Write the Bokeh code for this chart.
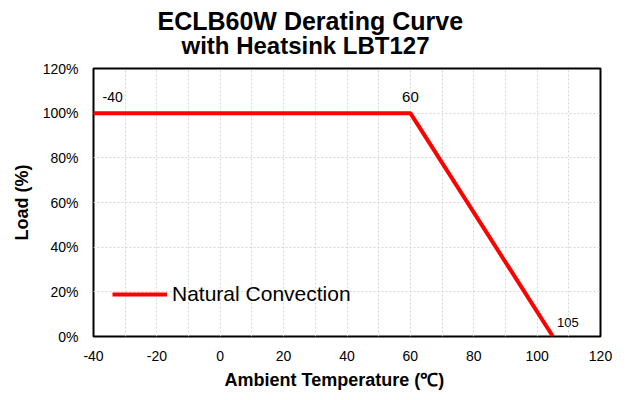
from bokeh.plotting import figure
from bokeh.models import (FixedTicker, PrintfTickFormatter, Label, Legend, LegendItem, Range1d, Title)
from bokeh.embed import file_html
from bokeh.resources import INLINE

# data
temps = [-40, 60, 105]
loads = [100, 100, 0]
point_labels = ["-40", "60", "105"]
x_ticks = [-40, -20, 0, 20, 40, 60, 80, 100, 120]
x_grid = list(range(-40, 121, 10))
y_ticks = [0, 20, 40, 60, 80, 100, 120]
series_name = "Natural Convection"
title_lines = ["ECLB60W  Derating Curve", "with Heatsink  LBT127"]
x_title = "Ambient Temperature (℃)"
y_title = "Load (%)"

W, H = 618, 394
FL, FR, FT, FB = 93, 600, 68, 336   # frame edges on the canvas
FONT = "Liberation Sans"

p = figure(width=W, height=H, output_backend="svg", toolbar_location=None,
           x_range=Range1d(-40, 120), y_range=Range1d(0, 120),
           min_border_left=FL, min_border_right=W - FR,
           min_border_top=FT, min_border_bottom=H - FB)
p.background_fill_color = "white"
p.border_fill_color = "white"
p.outline_line_color = "black"
p.outline_line_width = 2

# title: two centred lines, drawn as left-aligned titles with offsets
# (titles added later sit closer to the plot)
p.title.text = title_lines[0]
p.title.align = "left"
p.title.offset = 64
p.title.standoff = -28
p.title.text_line_height = 1.0
p.title.text_font = FONT
p.title.text_font_size = "25px"
p.title.text_font_style = "bold"
p.title.text_color = "black"
p.add_layout(Title(text=title_lines[1], align="left", offset=88, standoff=19,
                   text_line_height=1.0,
                   text_font=FONT, text_font_size="24px", text_font_style="bold",
                   text_color="black"), "above")

for ax in (p.xaxis[0], p.yaxis[0]):
    ax.axis_line_color = None
    ax.major_tick_line_color = None
    ax.minor_tick_line_color = None
    ax.major_label_text_font = FONT
    ax.major_label_text_font_size = "14px"
    ax.major_label_text_color = "black"

p.xaxis.ticker = FixedTicker(ticks=x_ticks)
p.xaxis.major_label_overrides = {t: str(t) for t in x_ticks}
p.yaxis.ticker = FixedTicker(ticks=y_ticks)
p.yaxis.formatter = PrintfTickFormatter(format="%d%%")
p.xaxis.major_label_standoff = 8
p.yaxis.major_label_standoff = 9

p.yaxis.axis_label = y_title
p.yaxis.axis_label_text_font = FONT
p.yaxis.axis_label_text_font_size = "18px"
p.yaxis.axis_label_text_font_style = "bold"
p.yaxis.axis_label_text_color = "black"
p.yaxis.axis_label_standoff = 8

p.add_layout(Title(text=x_title, align="left", offset=131, standoff=8,
                   text_font=FONT, text_font_size="18px", text_font_style="bold",
                   text_color="black"), "below")

p.xgrid.ticker = FixedTicker(ticks=x_grid)
p.ygrid.ticker = FixedTicker(ticks=y_ticks)
for g in (p.xgrid[0], p.ygrid[0]):
    g.grid_line_color = "#d6d6d6"
    g.grid_line_dash = "2 2"
    g.grid_line_width = 1

r = p.line(temps, loads, line_color="#ff0000", line_width=4)

legend = Legend(items=[LegendItem(label=series_name, renderers=[r])],
                location=(19, 30), glyph_width=55, glyph_height=20,
                label_text_font=FONT, label_text_font_size="21px",
                label_text_color="black",
                label_standoff=5, padding=0, margin=0,
                background_fill_alpha=0, border_line_color=None)
p.add_layout(legend, "center")

# point labels
offsets = [(9, 16, "14px", "left"), (0, 16, "15px", "center"), (4, 14, "13px", "left")]
for t, l, lab, (dx, dy, fs, al) in zip(temps, loads, point_labels, offsets):
    p.add_layout(Label(x=t, y=l, text=lab, x_offset=dx, y_offset=dy,
                       text_font=FONT, text_font_size=fs, text_align=al,
                       text_baseline="alphabetic", text_color="black"))

open("out.html", "w").write(file_html(p, INLINE))
